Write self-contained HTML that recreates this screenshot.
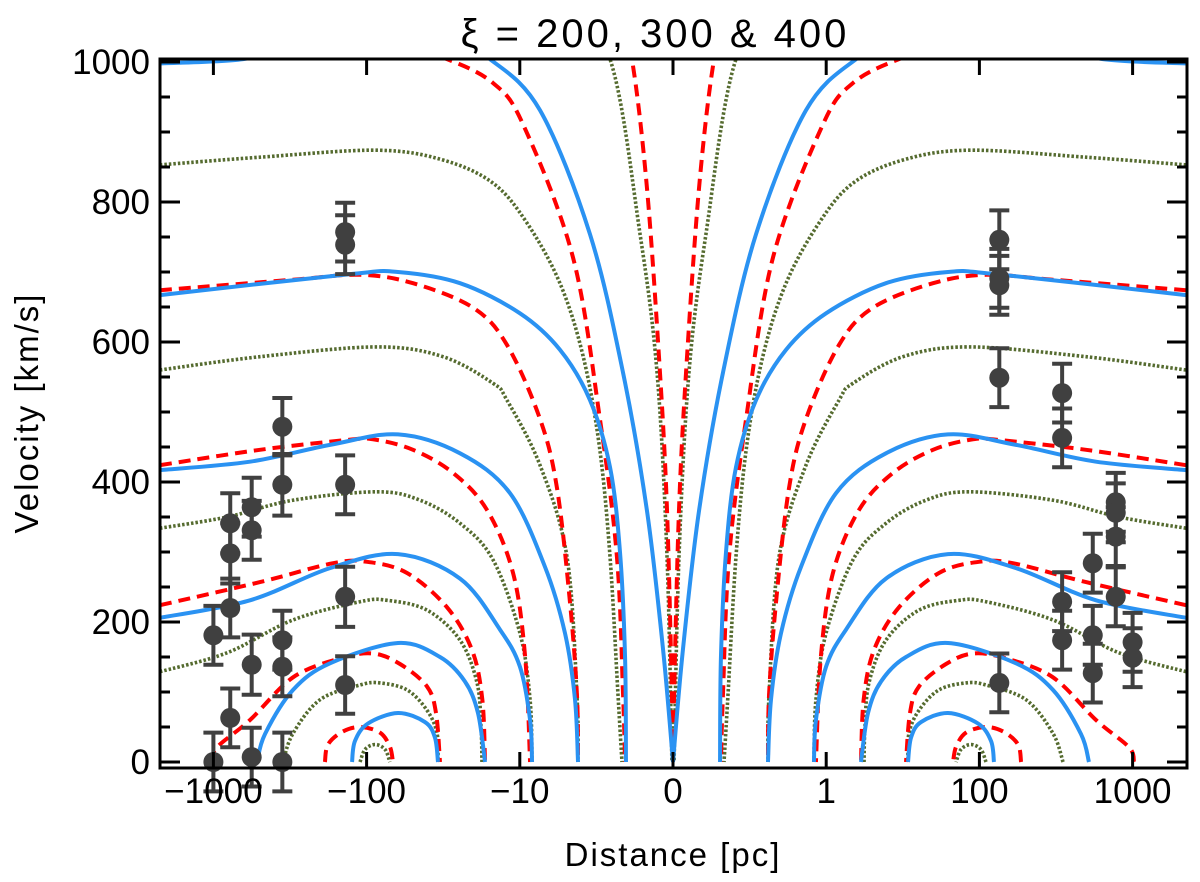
<!DOCTYPE html>
<html><head><meta charset="utf-8"><style>
html,body{margin:0;padding:0;background:#fff;}
svg{display:block;font-family:"Liberation Sans",sans-serif;}
</style></head><body>
<svg id="chart" width="1200" height="882" viewBox="0 0 1200 882" xmlns="http://www.w3.org/2000/svg">
<defs><clipPath id="plotclip"><rect x="160" y="59" width="1027" height="709"/></clipPath></defs>
<text x="655" y="47" font-size="40" letter-spacing="3" text-anchor="middle">ξ = 200, 300 &amp; 400</text>
<text transform="translate(38,413) rotate(-90)" font-size="33" letter-spacing="2" text-anchor="middle">Velocity [km/s]</text>
<text x="673" y="866" font-size="33" letter-spacing="2" text-anchor="middle">Distance [pc]</text>
<g id="curves" clip-path="url(#plotclip)"></g>
<g id="points"></g>
<g id="axes"></g>
</svg>
<script>
// x: signed log-distance (decades), y: velocity km/s
const xTickValues=[-3,-2,-1,0,1,2,3];
const xTickLabels=["\u22121000","\u2212100","\u221210","0","1","100","1000"];
const yTickValues=[0,200,400,600,800,1000];
const yTickLabels=["0","200","400","600","800","1000"];

const blueCurves=[
 [[-2.095,0],[-2.076,30],[-1.991,55],[-1.795,70],[-1.619,57],[-1.554,35],[-1.534,0]],
 [[-2.715,0],[-2.663,40],[-2.480,103],[-2.239,141],[-1.795,170],[-1.521,150],[-1.358,115],[-1.273,70],[-1.227,0]],
 [[-3.349,206],[-2.761,231],[-2.239,277],[-1.795,297],[-1.390,262],[-1.129,189],[-0.999,136],[-0.933,60],[-0.920,0]],
 [[-3.349,417],[-2.761,429],[-2.239,453],[-1.795,468],[-1.390,441],[-1.064,384],[-0.836,279],[-0.705,184],[-0.640,90],[-0.620,0]],
 [[-3.349,667],[-2.108,697],[-1.795,700],[-1.390,684],[-0.999,641],[-0.738,589],[-0.542,517],[-0.411,421],[-0.346,300],[-0.313,150],[-0.307,0]],
 [[-3.349,998],[-2.807,1004],[-2.427,1025],[-1.795,1050],[-1.521,1040],[-1.195,1004],[-0.868,931],[-0.542,754],[-0.326,556],[-0.170,359],[-0.065,161],[0,0]]
];
const redCurves=[
 [[-2.272,0],[-2.252,25],[-2.160,43],[-2.043,50],[-1.913,42],[-1.848,22],[-1.828,0]],
 [[-3.009,0],[-2.977,21],[-2.761,60],[-2.480,121],[-2.174,148],[-1.958,155],[-1.782,140],[-1.606,108],[-1.547,70],[-1.521,0]],
 [[-3.349,224],[-2.696,257],[-2.219,284],[-1.997,286],[-1.736,270],[-1.475,221],[-1.312,160],[-1.245,90],[-1.227,0]],
 [[-3.349,424],[-2.696,446],[-2.128,460],[-1.958,461],[-1.697,446],[-1.436,413],[-1.214,360],[-1.044,270],[-0.965,150],[-0.933,0]],
 [[-3.349,674],[-2.480,689],[-2.043,696],[-1.697,684],[-1.305,649],[-1.084,596],[-0.868,490],[-0.757,391],[-0.672,227],[-0.627,96],[-0.620,0]],
 [[-2.000,1030],[-1.782,1022],[-1.475,1004],[-1.175,970],[-0.979,911],[-0.653,721],[-0.477,490],[-0.366,293],[-0.326,96],[-0.313,0]],
 [[-0.379,1100],[-0.268,1004],[-0.170,820],[-0.085,556],[-0.039,359],[-0.007,96],[0,0]]
];
const greenCurves=[
 [[-2.043,0],[-2.010,18],[-1.945,25],[-1.880,18],[-1.848,0]],
 [[-2.546,0],[-2.480,41],[-2.304,89],[-2.043,110],[-1.913,113],[-1.736,103],[-1.606,74],[-1.540,41],[-1.534,0]],
 [[-3.349,129],[-2.911,156],[-2.480,203],[-2.043,229],[-1.867,231],[-1.606,217],[-1.390,174],[-1.279,113],[-1.253,50],[-1.247,0]],
 [[-3.349,334],[-2.911,350],[-2.480,374],[-1.932,386],[-1.651,374],[-1.390,341],[-1.175,289],[-0.999,184],[-0.933,89],[-0.920,0]],
 [[-3.349,560],[-2.696,579],[-1.932,593],[-1.501,579],[-1.175,541],[-1.084,517],[-0.868,424],[-0.692,293],[-0.627,96],[-0.620,0]],
 [[-3.349,853],[-2.696,864],[-1.932,874],[-1.501,860],[-1.175,827],[-0.953,770],[-0.738,684],[-0.587,580],[-0.480,450],[-0.411,293],[-0.359,96],[-0.333,0]],
 [[-0.738,1100],[-0.411,1004],[-0.215,754],[-0.104,556],[-0.039,293],[-0.007,0]]
];

const pointX=[-3.00,-3.00,-2.89,-2.89,-2.89,-2.89,-2.75,-2.75,-2.75,-2.75,-2.55,-2.55,-2.55,-2.55,-2.55,-2.14,-2.14,-2.14,-2.14,-2.14,
 2.13,2.13,2.13,2.13,2.13,2.54,2.54,2.54,2.54,2.74,2.74,2.74,2.89,2.89,2.89,2.89,3.00,3.00];
const pointV=[181,0,341,298,220,63,364,331,139,7,479,396,174,136,0,757,739,396,236,110,
 746,691,681,549,113,527,463,229,174,284,181,127,371,356,322,236,171,149];
const pointErr=[42,42,43,43,42,42,42,42,43,42,41,44,42,42,42,42,42,42,43,41,
 42,42,42,42,42,42,42,42,42,42,42,42,42,42,42,42,42,42];

const X0=673, XS=153.2, YTOP=62, YS=0.7;
function xs(u){return X0+XS*u;}
function ys(v){return YTOP+(1000-v)*YS;}
const NS="http://www.w3.org/2000/svg";
function mk(tag,attrs,parent){const e=document.createElementNS(NS,tag);for(const k in attrs)e.setAttribute(k,attrs[k]);parent.appendChild(e);return e;}

function pathFor(pts){
 const p=pts.map(d=>[xs(d[0]),ys(d[1])]);
 let s="M"+p[0][0].toFixed(2)+","+p[0][1].toFixed(2);
 for(let i=0;i<p.length-1;i++){
  const p0=p[i-1]||p[i],p1=p[i],p2=p[i+1],p3=p[i+2]||p[i+1];
  const c1=[p1[0]+(p2[0]-p0[0])/6,p1[1]+(p2[1]-p0[1])/6];
  const c2=[p2[0]-(p3[0]-p1[0])/6,p2[1]-(p3[1]-p1[1])/6];
  s+="C"+c1[0].toFixed(2)+","+c1[1].toFixed(2)+" "+c2[0].toFixed(2)+","+c2[1].toFixed(2)+" "+p2[0].toFixed(2)+","+p2[1].toFixed(2);
 }
 return s;
}
const cg=document.getElementById("curves");
function drawFamily(curves,style,name){
 curves.forEach((c,i)=>{
  [1,-1].forEach(sgn=>{
   const pts=c.map(d=>[d[0]*sgn,d[1]]);
   const el=mk("path",Object.assign({d:pathFor(pts),fill:"none"},style),cg);
   
   
  });
 });
}
drawFamily(greenCurves,{stroke:"#556b2f","stroke-width":3.6,"stroke-dasharray":"2.5 2"},"xi-200-dotted-curve");
drawFamily(redCurves,{stroke:"#ff0000","stroke-width":4,"stroke-dasharray":"12 7"},"xi-300-dashed-curve");
drawFamily(blueCurves,{stroke:"#2a92f2","stroke-width":4},"xi-400-solid-curve");

const pg=document.getElementById("points");
pointX.forEach((u,i)=>{
 const x=xs(u),y=ys(pointV[i]),e=pointErr[i];
 const g=mk("g",{},pg);
 
 
 const yt=ys(pointV[i]+e),yb=ys(pointV[i]-e);
 mk("line",{x1:x,x2:x,y1:yt,y2:yb,stroke:"#404040","stroke-width":4},g);
 mk("line",{x1:x-10,x2:x+10,y1:yt,y2:yt,stroke:"#404040","stroke-width":4},g);
 mk("line",{x1:x-10,x2:x+10,y1:yb,y2:yb,stroke:"#404040","stroke-width":4},g);
 mk("circle",{cx:x,cy:y,r:10,fill:"#404040"},g);
});

const ag=document.getElementById("axes");
const frame=mk("rect",{x:160,y:59,width:1027,height:709,fill:"none",stroke:"#000","stroke-width":3},ag);


xTickValues.forEach((u,i)=>{
 const x=xs(u);
 mk("line",{x1:x,x2:x,y1:768,y2:752,stroke:"#000","stroke-width":3},ag);
 mk("line",{x1:x,x2:x,y1:59,y2:75,stroke:"#000","stroke-width":3},ag);
 const t=mk("text",{x:x,y:803,"font-size":35,"text-anchor":"middle"},ag);
 t.textContent=xTickLabels[i];
 
 
});
for(let v=0;v<=1000;v+=50){
 const y=ys(v),major=(v%200===0),L=major?20:10;
 mk("line",{x1:160,x2:160+L,y1:y,y2:y,stroke:"#000","stroke-width":3},ag);
 mk("line",{x1:1187,x2:1187-L,y1:y,y2:y,stroke:"#000","stroke-width":3},ag);
}
yTickValues.forEach((v,i)=>{
 const t=mk("text",{x:150,y:ys(v)+12,"font-size":35,"text-anchor":"end"},ag);
 t.textContent=yTickLabels[i];
 
 
});
</script>
</body></html>
